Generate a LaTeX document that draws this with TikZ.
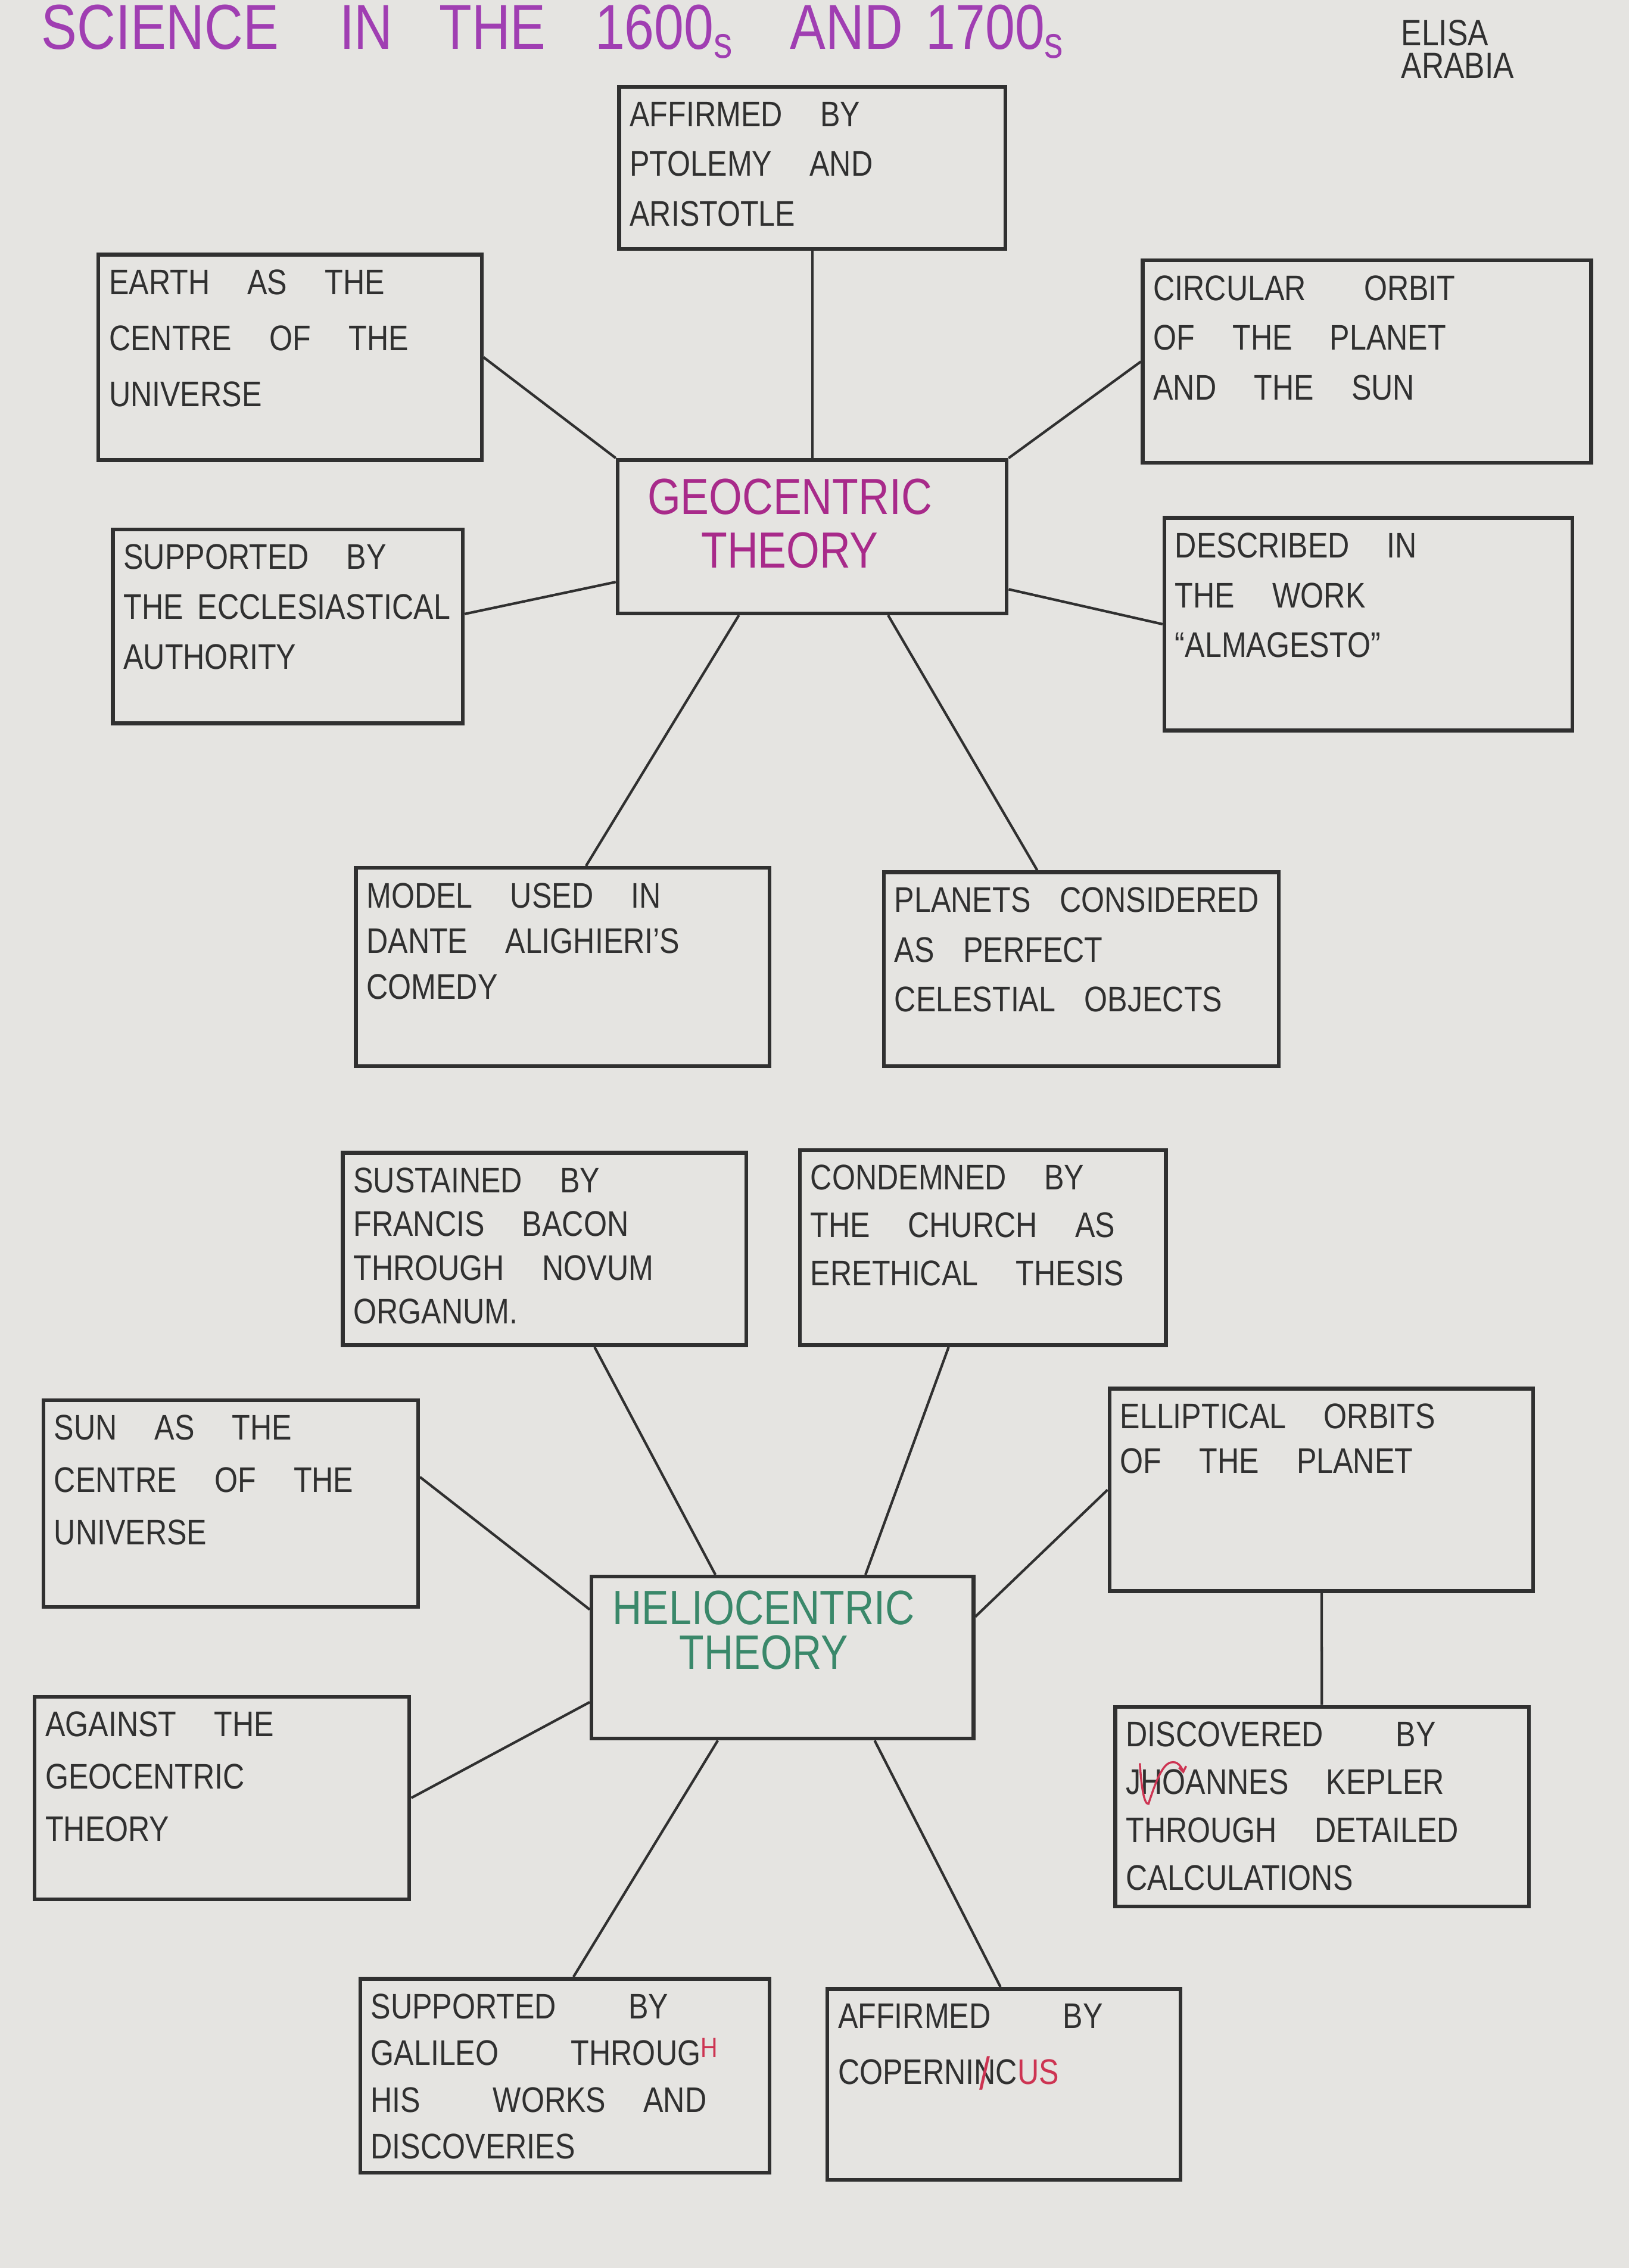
\documentclass[tikz,border=0pt]{standalone}
\usepackage{fontspec}
\setmainfont{Liberation Sans}[FakeStretch=0.84]

\definecolor{paper}{RGB}{229,228,225}
\definecolor{pencil}{RGB}{48,48,48}
\definecolor{titlepurple}{RGB}{160,62,178}
\definecolor{geomagenta}{RGB}{168,42,138}
\definecolor{heliogreen}{RGB}{58,136,106}
\definecolor{redpen}{RGB}{205,52,82}

\begin{document}
\begin{tikzpicture}[x=0.1mm,y=-0.1mm]
		\tikzstyle{every node}=[font=\fontsize{7}{9.8}\selectfont]
		\tikzstyle{box}=[draw=pencil, line width=0.75pt, inner sep=0pt]
		\tikzstyle{boxtext}=[anchor=north west, align=left, inner xsep=0.8mm, inner ysep=1.1mm, text=pencil, execute at begin node={\spaceskip=2.6mm\relax}]
		\tikzstyle{link}=[draw=pencil, line width=0.5pt]
		
		\fill[paper] (0,0) rectangle (1126,1568);
		
		% heading
		\node[anchor=base west, inner sep=0pt, text=titlepurple, font=\fontsize{12.5}{14}\selectfont] (title) at (28,34)
		{SCIENCE\hspace{4.2mm}IN\hspace{3.2mm}THE\hspace{3.4mm}1600\textsubscript{s}\hspace{3.8mm}AND\hspace{1.6mm}1700\textsubscript{s}};
		\node[anchor=north west, align=left, inner sep=0pt, text=pencil, font=\fontsize{7.2}{6.5}\selectfont] (author) at (968,13) {ELISA\\ARABIA};
		
		% geocentric part
		\node[box, minimum width=26.9mm, minimum height=10.6mm] (geo) at (561.5,371) {};
		\node[align=center, text=geomagenta, font=\fontsize{10}{10.5}\selectfont] (geo-t) at (546,362) {GEOCENTRIC\\THEORY};
		
		\node[box, minimum width=26.7mm, minimum height=11.2mm] (ptolemy) at (561.5,116) {};
		\node[boxtext] (ptolemy-t) at (ptolemy.north west) {AFFIRMED BY\\PTOLEMY AND\\ARISTOTLE};
		
		\node[box, minimum width=26.5mm, minimum height=14.2mm] (earth) at (200.5,247) {};
		\node[boxtext, font=\fontsize{7}{11}\selectfont] (earth-t) at (earth.north west) {EARTH AS THE\\CENTRE OF THE\\UNIVERSE};
		
		\node[box, minimum width=31mm, minimum height=14mm] (orbit) at (945,250) {};
		\node[boxtext] (orbit-t) at (orbit.north west) {CIRCULAR\hspace{4mm}ORBIT\\OF THE PLANET\\AND THE SUN};
		
		\node[box, minimum width=24.2mm, minimum height=13.4mm] (church1) at (199,433) {};
		\node[boxtext] (church1-t) at (church1.north west) {SUPPORTED BY\\THE\hspace{1mm}ECCLESIASTICAL\\AUTHORITY};
		
		\node[box, minimum width=28.2mm, minimum height=14.7mm] (almag) at (946,431.5) {};
		\node[boxtext] (almag-t) at (almag.north west) {DESCRIBED IN\\THE WORK\\``ALMAGESTO''};
		
		\node[box, minimum width=28.6mm, minimum height=13.7mm] (dante) at (389,668.5) {};
		\node[boxtext, font=\fontsize{7}{9}\selectfont] (dante-t) at (dante.north west) {MODEL USED IN\\DANTE ALIGHIERI'S\\COMEDY};
		
		\node[box, minimum width=27.3mm, minimum height=13.4mm] (perfect) at (747.5,670) {};
		\node[boxtext, execute at begin node={\spaceskip=2mm\relax}] (perfect-t) at (perfect.north west) {PLANETS CONSIDERED\\AS PERFECT\\CELESTIAL OBJECTS};
		
		\draw[link] (ptolemy) -- (geo);
		\draw[link] (earth.east) -- (geo.north west);
		\draw[link] (orbit.west) -- (geo.north east);
		\draw[link] (church1.4) -- (geo.193);
		\draw[link] (geo.345) -- (almag.west);
		\draw[link] (geo.227) -- (dante.77);
		\draw[link] (geo.314) -- (perfect.114);
		
		% heliocentric part
		\node[box, minimum width=26.4mm, minimum height=11.2mm] (helio) at (541,1146) {};
		\node[align=center, text=heliogreen, font=\fontsize{9.5}{8.8}\selectfont] (helio-t) at (528,1127) {HELIOCENTRIC\\THEORY};
		
		\node[box, minimum width=27.9mm, minimum height=13.3mm] (bacon) at (376.5,863.5) {};
		\node[boxtext, font=\fontsize{7}{8.6}\selectfont] (bacon-t) at (bacon.north west) {SUSTAINED BY\\FRANCIS BACON\\THROUGH NOVUM\\ORGANUM.};
		
		\node[box, minimum width=25.3mm, minimum height=13.5mm] (church2) at (679.5,862.5) {};
		\node[boxtext, font=\fontsize{7}{9.4}\selectfont] (church2-t) at (church2.north west) {CONDEMNED BY\\THE CHURCH AS\\ERETHICAL THESIS};
		
		\node[box, minimum width=25.9mm, minimum height=14.3mm] (sun) at (159.5,1039.5) {};
		\node[boxtext, font=\fontsize{7}{10.3}\selectfont] (sun-t) at (sun.north west) {SUN AS THE\\CENTRE OF THE\\UNIVERSE};
		
		\node[box, minimum width=29.3mm, minimum height=14mm] (ellip) at (913.5,1030) {};
		\node[boxtext, font=\fontsize{7}{8.8}\selectfont] (ellip-t) at (ellip.north west) {ELLIPTICAL ORBITS\\OF THE PLANET};
		
		\node[box, minimum width=25.9mm, minimum height=14mm] (against) at (153.5,1243) {};
		\node[boxtext, font=\fontsize{7}{10.3}\selectfont] (against-t) at (against.north west) {AGAINST THE\\GEOCENTRIC\\THEORY};
		
		\node[box, minimum width=28.6mm, minimum height=13.8mm] (kepler) at (914,1249) {};
		\node[boxtext, font=\fontsize{7}{9.4}\selectfont] (kepler-t) at (kepler.north west) {DISCOVERED\hspace{5mm}BY\\JHOANNES KEPLER\\THROUGH DETAILED\\CALCULATIONS};
		
		\node[box, minimum width=28.3mm, minimum height=13.4mm] (galileo) at (390.5,1435) {};
		\node[boxtext, font=\fontsize{7}{9.2}\selectfont] (galileo-t) at (galileo.north west) {SUPPORTED\hspace{5mm}BY\\GALILEO\hspace{5mm}THROUG\textcolor{redpen}{\raisebox{1.5pt}{\fontsize{5.5}{6}\selectfont H}}\\HIS\hspace{5mm}WORKS AND\\DISCOVERIES};
		
		\node[box, minimum width=24.4mm, minimum height=13.2mm] (copern) at (694,1441) {};
		\node[boxtext, font=\fontsize{7}{11}\selectfont] (copern-t) at (copern.north west) {AFFIRMED\hspace{5mm}BY\\COPERNI\ooalign{N\cr\hidewidth\textcolor{redpen}{\raisebox{-1pt}{\fontsize{9}{9}\selectfont /}}\hidewidth}C\textcolor{redpen}{US}};
		
		% red correction over JHOANNES
		\draw[redpen, line width=0.4pt] (788,1219) .. controls (789,1235) and (791,1248) .. (794,1247) .. controls (797,1238) and (802,1222) .. (808,1219) .. controls (812,1217) and (816,1219) .. (818,1225);
		\draw[redpen, line width=0.4pt] (815,1222) -- (818,1225) -- (820,1221);
		
		\draw[link] (bacon.297) -- (helio.129);
		\draw[link] (church2.251) -- (helio.45);
		\draw[link] (sun.8) -- (helio.166);
		\draw[link] (ellip.west) -- (helio.12);
		\draw[link] (ellip) -- (kepler);
		\draw[link] (against.east) -- (helio.193);
		\draw[link] (galileo.85) -- (helio.232);
		\draw[link] (copern.92) -- (helio.318);
		
	\end{tikzpicture}
\end{document}
